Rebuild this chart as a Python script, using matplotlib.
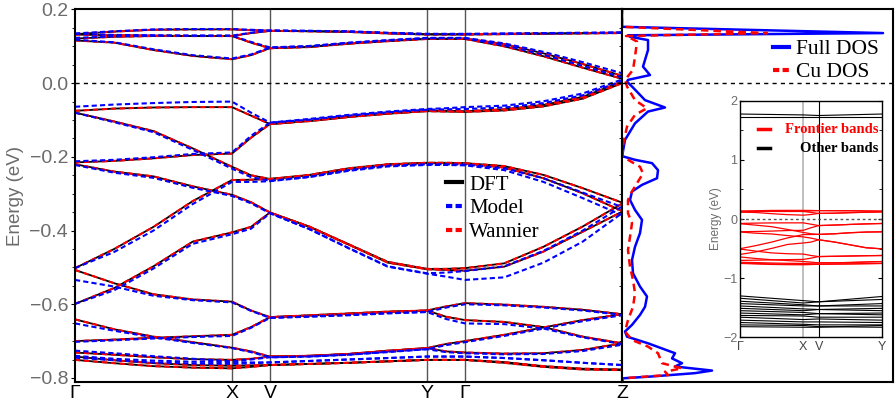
import numpy as np
import matplotlib.pyplot as plt
from matplotlib.lines import Line2D

# k-path Γ-X-V-Y-Γ-Z : segment lengths and number of read intervals per segment
seg_len = [157, 38, 157, 38, 157]
seg_div = [4, 2, 4, 2, 4]
k_labels = ["Γ", "X", "V", "Y", "Γ", "Z"]

# DFT bands (eV), 17 nodes along the path (Wannier bands lie on top of these)
dft_bands = [
    [0.133, 0.140, 0.145, 0.146, 0.146, 0.144, 0.142, 0.141, 0.140, 0.136, 0.133, 0.133, 0.133, 0.134, 0.135, 0.136, 0.137],
    [0.132, 0.130, 0.129, 0.128, 0.128, 0.136, 0.142, 0.141, 0.139, 0.135, 0.132, 0.132, 0.132, 0.133, 0.134, 0.135, 0.136],
    [0.121, 0.126, 0.128, 0.128, 0.128, 0.110, 0.095, 0.099, 0.108, 0.115, 0.121, 0.121, 0.121, 0.106, 0.081, 0.052, 0.020],
    [0.116, 0.110, 0.090, 0.074, 0.065, 0.076, 0.095, 0.098, 0.107, 0.114, 0.120, 0.120, 0.120, 0.100, 0.073, 0.042, 0.012],
    [-0.075, -0.069, -0.066, -0.065, -0.065, -0.088, -0.111, -0.102, -0.091, -0.082, -0.075, -0.075, -0.076, -0.071, -0.059, -0.037, 0.004],
    [-0.215, -0.211, -0.204, -0.195, -0.191, -0.148, -0.111, -0.103, -0.092, -0.083, -0.076, -0.077, -0.078, -0.074, -0.063, -0.042, 0.000],
    [-0.080, -0.104, -0.130, -0.177, -0.227, -0.250, -0.260, -0.249, -0.231, -0.220, -0.216, -0.216, -0.217, -0.225, -0.249, -0.285, -0.324],
    [-0.502, -0.450, -0.390, -0.320, -0.263, -0.262, -0.260, -0.250, -0.233, -0.221, -0.217, -0.217, -0.218, -0.229, -0.258, -0.299, -0.347],
    [-0.220, -0.240, -0.253, -0.280, -0.303, -0.323, -0.351, -0.389, -0.437, -0.485, -0.504, -0.504, -0.502, -0.489, -0.444, -0.389, -0.327],
    [-0.599, -0.556, -0.497, -0.430, -0.405, -0.390, -0.351, -0.390, -0.438, -0.487, -0.505, -0.507, -0.509, -0.498, -0.457, -0.403, -0.349],
    [-0.507, -0.543, -0.573, -0.587, -0.593, -0.617, -0.635, -0.630, -0.625, -0.620, -0.617, -0.606, -0.597, -0.601, -0.607, -0.615, -0.627],
    [-0.700, -0.696, -0.691, -0.687, -0.683, -0.662, -0.635, -0.631, -0.626, -0.621, -0.617, -0.634, -0.643, -0.648, -0.662, -0.688, -0.706],
    [-0.641, -0.668, -0.688, -0.703, -0.718, -0.728, -0.742, -0.740, -0.735, -0.726, -0.719, -0.708, -0.700, -0.683, -0.663, -0.643, -0.627],
    [-0.731, -0.737, -0.744, -0.749, -0.751, -0.748, -0.742, -0.740, -0.735, -0.727, -0.719, -0.728, -0.731, -0.734, -0.733, -0.724, -0.706],
    [-0.742, -0.752, -0.760, -0.765, -0.767, -0.766, -0.765, -0.762, -0.759, -0.755, -0.751, -0.751, -0.751, -0.757, -0.768, -0.775, -0.777],
    [-0.751, -0.760, -0.768, -0.772, -0.774, -0.770, -0.765, -0.762, -0.759, -0.755, -0.751, -0.751, -0.751, -0.759, -0.770, -0.777, -0.779],
]

# Model (tight-binding) bands, same nodes
model_bands = [
    [0.135, 0.141, 0.146, 0.147, 0.147, 0.145, 0.143, 0.142, 0.141, 0.137, 0.134, 0.134, 0.134, 0.135, 0.136, 0.137, 0.138],
    [0.134, 0.131, 0.130, 0.129, 0.129, 0.137, 0.143, 0.142, 0.140, 0.136, 0.133, 0.133, 0.133, 0.134, 0.135, 0.136, 0.137],
    [0.123, 0.127, 0.129, 0.129, 0.129, 0.112, 0.097, 0.101, 0.110, 0.117, 0.123, 0.123, 0.123, 0.108, 0.085, 0.057, 0.027],
    [0.118, 0.111, 0.092, 0.076, 0.067, 0.078, 0.097, 0.100, 0.109, 0.116, 0.122, 0.122, 0.122, 0.103, 0.077, 0.047, 0.016],
    [-0.064, -0.058, -0.054, -0.051, -0.050, -0.080, -0.107, -0.097, -0.086, -0.077, -0.070, -0.068, -0.065, -0.061, -0.049, -0.028, 0.010],
    [-0.212, -0.208, -0.201, -0.192, -0.188, -0.143, -0.107, -0.099, -0.088, -0.079, -0.072, -0.071, -0.070, -0.066, -0.054, -0.033, 0.006],
    [-0.080, -0.106, -0.133, -0.181, -0.232, -0.255, -0.265, -0.254, -0.236, -0.224, -0.220, -0.220, -0.221, -0.231, -0.258, -0.297, -0.336],
    [-0.502, -0.458, -0.400, -0.328, -0.268, -0.268, -0.266, -0.255, -0.238, -0.226, -0.222, -0.222, -0.223, -0.236, -0.268, -0.312, -0.358],
    [-0.222, -0.243, -0.257, -0.284, -0.306, -0.326, -0.353, -0.396, -0.447, -0.497, -0.516, -0.514, -0.510, -0.497, -0.455, -0.400, -0.335],
    [-0.599, -0.562, -0.503, -0.436, -0.410, -0.395, -0.353, -0.396, -0.448, -0.498, -0.517, -0.525, -0.534, -0.527, -0.487, -0.430, -0.353],
    [-0.534, -0.552, -0.577, -0.589, -0.595, -0.618, -0.637, -0.633, -0.629, -0.624, -0.621, -0.609, -0.600, -0.603, -0.609, -0.617, -0.629],
    [-0.702, -0.698, -0.693, -0.689, -0.686, -0.664, -0.637, -0.634, -0.630, -0.625, -0.621, -0.640, -0.652, -0.654, -0.666, -0.690, -0.708],
    [-0.652, -0.672, -0.690, -0.705, -0.719, -0.730, -0.744, -0.742, -0.737, -0.729, -0.722, -0.711, -0.703, -0.686, -0.666, -0.646, -0.630],
    [-0.726, -0.733, -0.741, -0.748, -0.755, -0.750, -0.744, -0.742, -0.737, -0.730, -0.722, -0.730, -0.733, -0.736, -0.735, -0.727, -0.710],
    [-0.740, -0.748, -0.753, -0.756, -0.757, -0.758, -0.758, -0.754, -0.750, -0.746, -0.742, -0.742, -0.742, -0.746, -0.752, -0.759, -0.765],
    [-0.745, -0.752, -0.758, -0.761, -0.762, -0.760, -0.758, -0.754, -0.750, -0.746, -0.742, -0.742, -0.742, -0.746, -0.752, -0.759, -0.765],
]

# Inset: remaining (non-frontier) DFT bands at Γ, X, V, Y
other_upper = [
    [1.775, 1.760, 1.750, 1.775],
    [1.730, 1.730, 1.730, 1.730],
]
other_lower = [
    [-1.30, -1.38, -1.40, -1.31],
    [-1.34, -1.42, -1.40, -1.36],
    [-1.39, -1.45, -1.47, -1.43],
    [-1.43, -1.47, -1.47, -1.47],
    [-1.47, -1.52, -1.53, -1.51],
    [-1.51, -1.55, -1.53, -1.55],
    [-1.55, -1.58, -1.60, -1.59],
    [-1.59, -1.62, -1.60, -1.62],
    [-1.63, -1.64, -1.66, -1.66],
    [-1.66, -1.70, -1.69, -1.71],
    [-1.71, -1.74, -1.74, -1.75],
    [-1.75, -1.78, -1.79, -1.79],
    [-1.79, -1.80, -1.82, -1.83],
    [-1.82, -1.83, -1.83, -1.80],
]

# Density of states (arb. units)
full_dos_e = [0.21, 0.153, 0.136, 0.130, 0.126, 0.117, 0.090, 0.063, 0.045, 0.022, 0.009, 0.004,
              -0.009, -0.046, -0.066, -0.077, -0.109, -0.154, -0.195, -0.199, -0.208, -0.217,
              -0.236, -0.258, -0.276, -0.294, -0.317, -0.344, -0.371, -0.407, -0.444, -0.480,
              -0.516, -0.552, -0.579, -0.607, -0.629, -0.656, -0.674, -0.688, -0.706, -0.733,
              -0.747, -0.760, -0.769, -0.780, -0.787, -0.796, -0.801, -0.811]
full_dos_v = [0, 0, 261, 6, 8, 26, 26, 23, 21, 28, 6, 5,
              10, 23, 43, 26, 13, 3, 0.3, 1.3, 13, 30,
              36, 35, 20, 10, 8, 13, 20, 18, 13, 10,
              11, 18, 25, 23, 18, 10, 3, 5, 26, 53,
              50, 60, 53, 90, 73, 30, 1, 0]
cu_dos_e = [0.21, 0.153, 0.136, 0.128, 0.126, 0.113, 0.072, 0.036, 0.009, -0.009, -0.046,
            -0.068, -0.086, -0.118, -0.163, -0.199, -0.208, -0.227, -0.245, -0.267, -0.294,
            -0.317, -0.353, -0.380, -0.417, -0.453, -0.498, -0.534, -0.570, -0.607, -0.643,
            -0.674, -0.697, -0.715, -0.733, -0.760, -0.774, -0.783, -0.792, -0.796, -0.801, -0.811]
cu_dos_v = [0, 0, 145, 4, 6, 15, 13, 11, 3, 5, 13,
            25, 13, 5, 1.3, 0.3, 6, 18, 21, 16, 10,
            6, 6, 10, 8, 6, 8, 11, 13, 11, 6,
            3, 10, 26, 36, 40, 60, 43, 46, 26, 1, 0]

# ---------------------------------------------------------------------------
k = [0.0]
for length, ndiv in zip(seg_len, seg_div):
    start = k[-1]
    k += list(start + length * np.arange(1, ndiv + 1) / ndiv)
k = np.array(k)
k_ticks = np.concatenate([[0], np.cumsum(seg_len)])

GREY = '#6b6b6b'
SERIF = ['Liberation Serif', 'DejaVu Serif']
plt.rcParams['font.family'] = ['Liberation Sans', 'DejaVu Sans']

fig = plt.figure(figsize=(8.96, 4.04), dpi=100)
ax = fig.add_axes([0.0837, 0.0545, 0.6105, 0.922])
ax_dos = fig.add_axes([0.6942, 0.0545, 0.3025, 0.922], sharey=ax)

dash_red = (0, (2.5, 1.8))
dash_blue = (0, (2.5, 1.5))

for band in dft_bands:
    ax.plot(k, band, color='k', lw=1.3)
for band in dft_bands:
    ax.plot(k, band, color='#ff0000', lw=1.5, ls=dash_red)
for band in model_bands:
    ax.plot(k, band, color='#0000ff', lw=1.5, ls=dash_blue)

for kt in k_ticks[1:-1]:
    ax.axvline(kt, color='#555555', lw=1.0, zorder=0)
ax.axhline(0, color='k', lw=1.0, ls=(0, (3, 3)))

ax.set_xlim(k_ticks[0], k_ticks[-1])
ax.set_ylim(-0.811, 0.2)
ax.set_yticks(np.arange(-0.8, 0.21, 0.2))
ax.set_yticks(np.arange(-0.8, 0.2, 0.05), minor=True)
ax.set_xticks(k_ticks, k_labels)
ax.tick_params(axis='y', which='major', direction='out', length=3,
               labelsize=14, labelcolor=GREY, pad=2)
ax.tick_params(axis='y', which='minor', direction='out', length=2)
ax.tick_params(axis='x', length=0, labelsize=14, pad=2)
ax.set_ylabel('Energy (eV)', fontsize=13.5, color=GREY, labelpad=4)
for sp in ax.spines.values():
    sp.set_linewidth(1.5)

leg_handles = [Line2D([], [], color='k', lw=3),
               Line2D([], [], color='#0000ff', lw=3, ls=(0, (1.5, 0.8))),
               Line2D([], [], color='#ff0000', lw=3, ls=(0, (1.5, 0.8)))]
ax.legend(leg_handles, ['DFT', 'Model', 'Wannier'], loc='upper left',
          bbox_to_anchor=(446 / 896, 1 - 175 / 404), bbox_transform=fig.transFigure,
          frameon=False, prop={'family': SERIF, 'size': 15},
          handlelength=0.75, handletextpad=0.35, labelspacing=0.2,
          borderpad=0, borderaxespad=0)

# DOS panel
ax_dos.plot(full_dos_v, full_dos_e, color='#0000ff', lw=1.8)
ax_dos.plot(cu_dos_v, cu_dos_e, color='#ff0000', lw=1.8, ls=(0, (3, 2)))
ax_dos.axhline(0, color='k', lw=1.0, ls=(0, (3, 3)))
ax_dos.set_xlim(0, 271)
ax_dos.tick_params(left=False, labelleft=False, bottom=False, labelbottom=False)
for sp in ax_dos.spines.values():
    sp.set_linewidth(1.5)
dos_handles = [Line2D([], [], color='#0000ff', lw=3),
               Line2D([], [], color='#ff0000', lw=3, ls=(0, (1.5, 0.8)))]
ax_dos.legend(dos_handles, ['Full DOS', 'Cu DOS'], loc='upper left',
              bbox_to_anchor=(773 / 896, 1 - 39 / 404), bbox_transform=fig.transFigure,
              frameon=False, prop={'family': SERIF, 'size': 15.5},
              handlelength=0.75, handletextpad=0.3, labelspacing=0.15,
              borderpad=0, borderaxespad=0)

# Inset: wide energy window
ax_in = fig.add_axes([0.8259, 0.1651, 0.1585, 0.5856])
k_in = k[:11]
for band in other_upper + other_lower:
    ax_in.plot(k_ticks[:4], band, color='k', lw=0.8)
for band in dft_bands:
    ax_in.plot(k_in, band[:11], color='#ff0000', lw=0.9)
ax_in.axvline(k_ticks[1], color='#b4b4b4', lw=1.2, zorder=0)
ax_in.axvline(k_ticks[2], color='k', lw=0.8, zorder=0)
ax_in.axhline(0, color='#555555', lw=1.0, ls=(0, (2, 2)))
ax_in.set_xlim(0, k_ticks[3])
ax_in.set_ylim(-2, 2)
ax_in.set_yticks([-2, -1, 0, 1, 2])
ax_in.set_yticks(np.arange(-2, 2.01, 0.5), minor=True)
ax_in.set_xticks(k_ticks[:4], k_labels[:4])
ax_in.tick_params(axis='y', which='both', direction='in', right=True,
                  labelsize=9, labelcolor=GREY, pad=2)
ax_in.tick_params(axis='y', which='major', length=3)
ax_in.tick_params(axis='y', which='minor', length=2)
ax_in.tick_params(axis='x', length=0, labelsize=9, labelcolor='#444444', pad=3)
ax_in.set_ylabel('Energy (eV)', fontsize=8.5, color=GREY, labelpad=1)
for sp in ax_in.spines.values():
    sp.set_linewidth(1.0)

for ypos, lab, col in [(0.880, 'Frontier bands', '#ff0000'), (0.800, 'Other bands', 'k')]:
    ax_in.plot([0.127, 0.211], [ypos, ypos], color=col, lw=2.5,
               transform=ax_in.transAxes)
    ax_in.text(0.975, ypos, lab, color=col, ha='right', va='center',
               fontsize=10.5, fontweight='bold', family=SERIF,
               transform=ax_in.transAxes)

fig.savefig('out.png', dpi=100)
